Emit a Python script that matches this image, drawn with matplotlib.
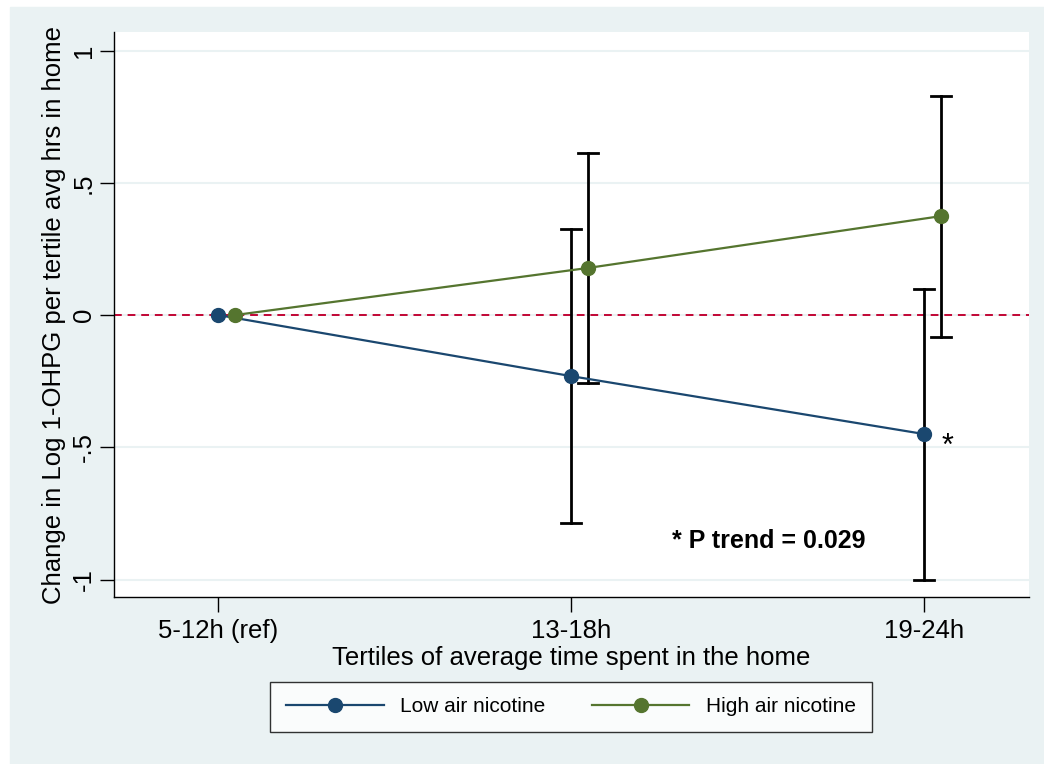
import matplotlib.pyplot as plt
from matplotlib.lines import Line2D

plt.rcParams['font.family'] = ['Liberation Sans', 'DejaVu Sans']

categories = ['5-12h (ref)', '13-18h', '19-24h']
low_est = [0.0, -0.231, -0.45]
low_lo = [0.0, -0.786, -1.0]
low_hi = [0.0, 0.325, 0.098]
high_est = [0.0, 0.178, 0.374]
high_lo = [0.0, -0.257, -0.083]
high_hi = [0.0, 0.612, 0.828]
offset = 0.048
yticks = [-1, -0.5, 0, 0.5, 1]
yticklabels = ['-1', '-.5', '0', '.5', '1']

navy = '#1a476f'
green = '#55752f'
bg = '#eaf2f3'

fig = plt.figure(figsize=(10.44, 7.64), dpi=100)
fig.patch.set_facecolor('white')
# light panel behind the graph (the picture has a white margin top/left)
fig.patches.append(plt.Rectangle((10 / 1044, 0), 1 - 10 / 1044, 1 - 7 / 764,
                                 transform=fig.transFigure, color=bg, zorder=-10))

W, H = 1044, 764
ax = fig.add_axes([114 / W, 1 - 597 / H, (1029 - 114) / W, (597 - 32) / H])
ax.set_facecolor('white')

x_low = [1, 2, 3]
x_high = [x + offset for x in x_low]

ax.axhline(0, color='#c10534', lw=1.4, ls=(0, (4, 3)), zorder=2)

for xs, est, lo, hi in [(x_low, low_est, low_lo, low_hi), (x_high, high_est, high_lo, high_hi)]:
    for i in range(1, 3):
        ax.plot([xs[i], xs[i]], [lo[i], hi[i]], color='black', lw=2, zorder=3)
        ax.plot([xs[i] - 0.028, xs[i] + 0.028], [lo[i], lo[i]], color='black', lw=2, zorder=3)
        ax.plot([xs[i] - 0.028, xs[i] + 0.028], [hi[i], hi[i]], color='black', lw=2, zorder=3)

ax.plot(x_low, low_est, color=navy, lw=1.6, marker='o', ms=10, zorder=4)
ax.plot(x_high, high_est, color=green, lw=1.6, marker='o', ms=10, zorder=4)

ax.text(2.56, -0.855, '* P trend = 0.029', fontsize=18, fontweight='bold',
        ha='center', va='center')
ax.text(3.065, -0.5, '*', fontsize=22, ha='center', va='center')

ax.set_xlim(0.705, 3.297)
ax.set_ylim(-1.066, 1.07)
ax.set_xticks(x_low)
ax.set_xticklabels(categories, fontsize=18.5)
ax.set_yticks(yticks)
ax.set_yticklabels(yticklabels, fontsize=18.5, rotation=90, va='center')
ax.grid(axis='y', color=bg, lw=1.5)
ax.set_axisbelow(True)
for s in ['top', 'right']:
    ax.spines[s].set_visible(False)
ax.spines['left'].set_linewidth(1)
ax.spines['bottom'].set_linewidth(1)
ax.tick_params(axis='x', length=11, width=1, pad=5)
ax.tick_params(axis='y', length=10, width=1, pad=3)
ax.set_xlabel('Tertiles of average time spent in the home', fontsize=18.5, labelpad=2)
ax.set_ylabel('Change in Log 1-OHPG per tertile avg hrs in home', fontsize=18.5, labelpad=4)

handles = [Line2D([], [], color=navy, lw=1.6, marker='o', ms=10),
           Line2D([], [], color=green, lw=1.6, marker='o', ms=10)]
leg = fig.legend(handles, ['Low air nicotine', 'High air nicotine'], ncol=2,
                 loc='center', bbox_to_anchor=(571 / W, 1 - 707 / H),
                 fontsize=15, frameon=True, fancybox=False, handlelength=4.7,
                 columnspacing=2.2, handletextpad=0.8, borderpad=0.75)
leg.get_frame().set_edgecolor('black')
leg.get_frame().set_linewidth(1)

fig.savefig('out.png', dpi=100, facecolor=fig.get_facecolor())
